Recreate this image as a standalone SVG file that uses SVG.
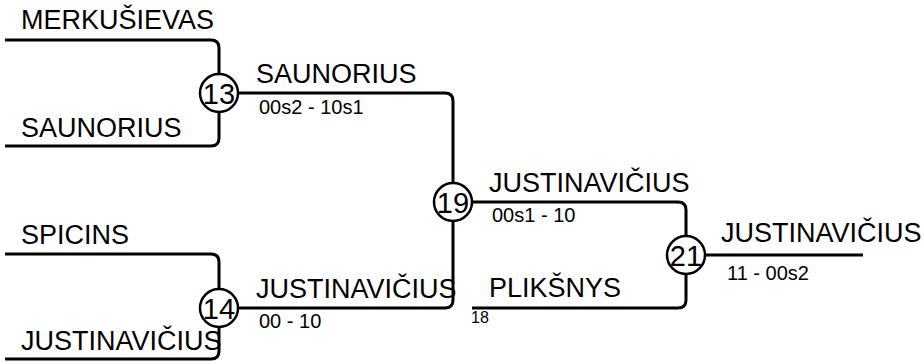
<svg xmlns="http://www.w3.org/2000/svg" width="923" height="362" viewBox="0 0 923 362">
<style>
.ln{fill:none;stroke:#000;stroke-width:3;stroke-linejoin:round}
.nd{fill:#fff;stroke:#000;stroke-width:2.5}
.num{font-family:"Liberation Sans",Arial,sans-serif;font-size:29px;text-anchor:middle;fill:#000}
.nm{font-family:"Liberation Sans",Arial,sans-serif;font-size:27px;fill:#000}
.sc{font-family:"Liberation Sans",Arial,sans-serif;font-size:20px;fill:#000}
.sm{font-family:"Liberation Sans",Arial,sans-serif;font-size:16px;fill:#000}
</style>
<rect width="923" height="362" fill="#fff"/>
<g id="connectors">
<path class="ln" d="M5,40 H211 Q219,40 219,48 V73"/>
<path class="ln" d="M5,146 H211 Q219,146 219,138 V113"/>
<path class="ln" d="M239,93 H445 Q453,93 453,101 V182"/>
<path class="ln" d="M5,254 H211 Q219,254 219,262 V288"/>
<path class="ln" d="M5,359 H211 Q219,359 219,351 V328"/>
<path class="ln" d="M239,308 H445 Q453,308 453,300 V222"/>
<path class="ln" d="M473,202 H678 Q686,202 686,210 V235"/>
<path class="ln" d="M472,308 H678 Q686,308 686,300 V275"/>
<path class="ln" d="M706,255 H863"/>
</g>
<g id="labels">
<text class="nm" x="21" y="29">MERKUŠIEVAS</text>
<text class="nm" x="21" y="137">SAUNORIUS</text>
<text class="nm" x="21" y="244">SPICINS</text>
<text class="nm" x="21" y="350">JUSTINAVIČIUS</text>
<text class="nm" x="256" y="83">SAUNORIUS</text>
<text class="sc" x="259" y="114">00s2 - 10s1</text>
<text class="nm" x="256" y="298">JUSTINAVIČIUS</text>
<text class="sc" x="259" y="328">00 - 10</text>
<text class="nm" x="489" y="192">JUSTINAVIČIUS</text>
<text class="sc" x="492" y="222">00s1 - 10</text>
<text class="nm" x="489" y="297">PLIKŠNYS</text>
<text class="sm" x="471" y="323">18</text>
<text class="nm" x="721" y="242">JUSTINAVIČIUS</text>
<text class="sc" x="727" y="280">11 - 00s2</text>
</g>
<g id="m13"><circle class="nd" cx="219" cy="93" r="19"/><text class="num" x="219" y="103.5">13</text></g>
<g id="m14"><circle class="nd" cx="219" cy="308" r="19"/><text class="num" x="219" y="318.5">14</text></g>
<g id="m19"><circle class="nd" cx="453" cy="202" r="19"/><text class="num" x="453" y="212.5">19</text></g>
<g id="m21"><circle class="nd" cx="686" cy="255" r="19"/><text class="num" x="686" y="265.5">21</text></g>
</svg>
